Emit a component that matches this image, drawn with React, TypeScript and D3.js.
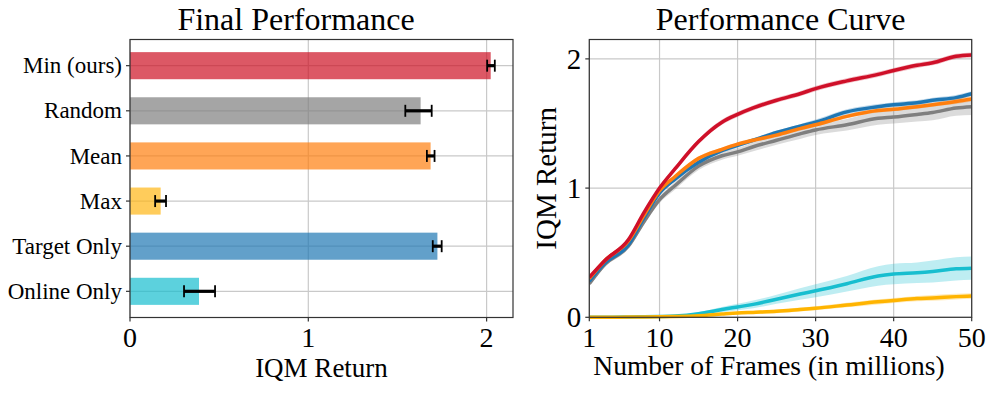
import React from "react";
import * as d3 from "d3";

// ---------- Data ----------
const methods = ["Min (ours)", "Random", "Mean", "Max", "Target Only", "Online Only"];
const finalValues = [2.023, 1.63, 1.686, 0.172, 1.724, 0.387];
const errLow = [2.003, 1.544, 1.665, 0.141, 1.698, 0.303];
const errHigh = [2.046, 1.692, 1.708, 0.202, 1.748, 0.477];
const barColors = ["#cd1124", "#7f7f7f", "#ff7f0e", "#ffb616", "#1f77b4", "#17becf"];
const barTicks = [0, 1, 2];

const frames = [1, 3, 6, 8, 10, 12, 15, 18, 20, 22, 25, 28, 30, 34, 38, 40, 43, 45, 48, 50];
const curveRandom = [0.26, 0.41, 0.55, 0.74, 0.91, 1.02, 1.17, 1.25, 1.28, 1.32, 1.37, 1.42, 1.45, 1.49, 1.54, 1.55, 1.57, 1.585, 1.62, 1.63];
const bandRandom = [0.02, 0.02, 0.02, 0.025, 0.025, 0.03, 0.03, 0.03, 0.03, 0.035, 0.035, 0.04, 0.04, 0.045, 0.05, 0.05, 0.055, 0.06, 0.06, 0.065];
const curveOnline = [0, 0, 0.002, 0.004, 0.006, 0.01, 0.028, 0.06, 0.08, 0.1, 0.14, 0.18, 0.205, 0.26, 0.32, 0.335, 0.345, 0.355, 0.375, 0.38];
const bandOnline = [0.002, 0.002, 0.003, 0.004, 0.005, 0.008, 0.012, 0.02, 0.025, 0.03, 0.035, 0.045, 0.05, 0.06, 0.075, 0.08, 0.08, 0.085, 0.09, 0.09];
const curveTarget = [0.28, 0.42, 0.56, 0.77, 0.96, 1.07, 1.2, 1.29, 1.33, 1.37, 1.43, 1.48, 1.51, 1.59, 1.63, 1.645, 1.66, 1.68, 1.7, 1.73];
const bandTarget = [0.015, 0.015, 0.015, 0.015, 0.015, 0.015, 0.015, 0.015, 0.015, 0.015, 0.015, 0.015, 0.02, 0.02, 0.02, 0.02, 0.02, 0.02, 0.02, 0.02];
const curveMean = [0.3, 0.44, 0.59, 0.79, 0.98, 1.09, 1.23, 1.3, 1.34, 1.37, 1.41, 1.46, 1.49, 1.555, 1.6, 1.61, 1.63, 1.645, 1.67, 1.69];
const bandMean = [0.015, 0.015, 0.015, 0.015, 0.015, 0.015, 0.015, 0.015, 0.015, 0.015, 0.015, 0.015, 0.015, 0.015, 0.015, 0.015, 0.015, 0.015, 0.02, 0.02];
const curveMax = [0, 0, 0.002, 0.003, 0.004, 0.006, 0.012, 0.025, 0.033, 0.038, 0.046, 0.06, 0.07, 0.095, 0.12, 0.13, 0.145, 0.15, 0.16, 0.165];
const bandMax = [0.002, 0.002, 0.002, 0.003, 0.003, 0.004, 0.006, 0.008, 0.01, 0.012, 0.014, 0.015, 0.016, 0.018, 0.02, 0.02, 0.02, 0.022, 0.022, 0.022];
const curveMin = [0.31, 0.44, 0.6, 0.81, 1.0, 1.15, 1.36, 1.51, 1.57, 1.62, 1.68, 1.73, 1.77, 1.83, 1.88, 1.91, 1.95, 1.97, 2.02, 2.03];
const bandMin = [0.015, 0.015, 0.015, 0.015, 0.015, 0.02, 0.02, 0.02, 0.02, 0.02, 0.02, 0.02, 0.02, 0.02, 0.02, 0.02, 0.02, 0.02, 0.02, 0.02];

const curveSeries = [
  { name: "Random", values: curveRandom, band: bandRandom, color: "#7f7f7f" },
  { name: "Online Only", values: curveOnline, band: bandOnline, color: "#17becf" },
  { name: "Target Only", values: curveTarget, band: bandTarget, color: "#1f77b4" },
  { name: "Mean", values: curveMean, band: bandMean, color: "#ff7f0e" },
  { name: "Max", values: curveMax, band: bandMax, color: "#ffb400" },
  { name: "Min (ours)", values: curveMin, band: bandMin, color: "#cf1029" },
];
const frameTicks = [1, 10, 20, 30, 40, 50];
const returnTicks = [0, 1, 2];

const FONT = "'Liberation Serif', 'Times New Roman', serif";
const GRID = "#c9c9c9";
const SPINE = "#333333";

export default function App() {
  // Left panel geometry
  const L = { left: 130, right: 513, top: 39.5, bottom: 317.5 };
  const xb = d3.scaleLinear().domain([0, 2.148]).range([L.left, L.right]);
  const yb = d3.scaleLinear().domain([-0.58, methods.length - 1 + 0.58]).range([L.top, L.bottom]);
  const barH = yb(0.6) - yb(0);

  // Right panel geometry
  const R = { left: 589.3, right: 971.7, top: 39.5, bottom: 317.3 };
  const xc = d3.scaleLinear().domain([1, 50]).range([R.left, R.right]);
  const yc = d3.scaleLinear().domain([0, 2.15]).range([R.bottom, R.top]);

  const line = d3
    .line<number>()
    .x((_, i) => xc(frames[i]))
    .y((v) => yc(v))
    .curve(d3.curveMonotoneX);

  const area = (vals: number[], band: number[]) =>
    d3
      .area<number>()
      .x((_, i) => xc(frames[i]))
      .y0((v, i) => yc(Math.max(0, v - band[i])))
      .y1((v, i) => yc(v + band[i]))
      .curve(d3.curveMonotoneX)(vals) || "";

  return (
    <svg
      width={996}
      height={393}
      style={{ position: "absolute", left: 0, top: 0, background: "#fff" }}
      fontFamily={FONT}
    >
      {/* ---------- Left panel ---------- */}
      <text x={296} y={30} fontSize={32} textAnchor="middle" fill="#000">
        Final Performance
      </text>
      {/* grid */}
      {barTicks.map((t) => (
        <line key={"gx" + t} x1={xb(t)} x2={xb(t)} y1={L.top} y2={L.bottom} stroke={GRID} strokeWidth={1.2} />
      ))}
      {methods.map((m, i) => (
        <line key={"gy" + m} x1={L.left} x2={L.right} y1={yb(i)} y2={yb(i)} stroke={GRID} strokeWidth={1.2} />
      ))}
      {/* bars */}
      {methods.map((m, i) => (
        <rect
          key={"bar" + m}
          x={xb(0)}
          y={yb(i) - barH / 2}
          width={xb(finalValues[i]) - xb(0)}
          height={barH}
          fill={barColors[i]}
          fillOpacity={0.7}
        />
      ))}
      {/* error bars */}
      {methods.map((m, i) => (
        <g key={"err" + m} stroke="#000">
          <line x1={xb(errLow[i])} x2={xb(errHigh[i])} y1={yb(i)} y2={yb(i)} strokeWidth={3.2} />
          <line x1={xb(errLow[i])} x2={xb(errLow[i])} y1={yb(i) - 6} y2={yb(i) + 6} strokeWidth={1.8} />
          <line x1={xb(errHigh[i])} x2={xb(errHigh[i])} y1={yb(i) - 6} y2={yb(i) + 6} strokeWidth={1.8} />
        </g>
      ))}
      {/* spines */}
      <rect x={L.left} y={L.top} width={L.right - L.left} height={L.bottom - L.top} fill="none" stroke={SPINE} strokeWidth={1.2} />
      {/* y ticks */}
      {methods.map((m, i) => (
        <g key={"yt" + m}>
          <line x1={L.left - 4} x2={L.left} y1={yb(i)} y2={yb(i)} stroke={SPINE} strokeWidth={1.2} />
          <text x={L.left - 8} y={yb(i)} dy="0.33em" fontSize={23} textAnchor="end" fill="#000">
            {m}
          </text>
        </g>
      ))}
      {/* x ticks */}
      {barTicks.map((t) => (
        <g key={"xt" + t}>
          <line x1={xb(t)} x2={xb(t)} y1={L.bottom} y2={L.bottom + 4} stroke={SPINE} strokeWidth={1.2} />
          <text x={xb(t)} y={347} fontSize={28} textAnchor="middle" fill="#000">
            {t}
          </text>
        </g>
      ))}
      <text x={(L.left + L.right) / 2} y={377} fontSize={27} textAnchor="middle" fill="#000">
        IQM Return
      </text>

      {/* ---------- Right panel ---------- */}
      <text x={(R.left + R.right) / 2} y={30} fontSize={32} textAnchor="middle" fill="#000">
        Performance Curve
      </text>
      {frameTicks.map((t) => (
        <line key={"cgx" + t} x1={xc(t)} x2={xc(t)} y1={R.top} y2={R.bottom} stroke={GRID} strokeWidth={1.2} />
      ))}
      {returnTicks.map((t) => (
        <line key={"cgy" + t} x1={R.left} x2={R.right} y1={yc(t)} y2={yc(t)} stroke={GRID} strokeWidth={1.2} />
      ))}
      <defs>
        <clipPath id="plotClip">
          <rect x={R.left} y={R.top} width={R.right - R.left} height={R.bottom - R.top + 2} />
        </clipPath>
      </defs>
      <g clipPath="url(#plotClip)">
        {curveSeries.map((s) => (
          <g key={"cs" + s.name}>
            <path d={area(s.values, s.band)} fill={s.color} fillOpacity={0.28} stroke="none" />
            <path d={line(s.values) || ""} fill="none" stroke={s.color} strokeWidth={3.5} strokeLinejoin="round" />
          </g>
        ))}
      </g>
      <rect x={R.left} y={R.top} width={R.right - R.left} height={R.bottom - R.top} fill="none" stroke={SPINE} strokeWidth={1.2} />
      {frameTicks.map((t) => (
        <g key={"cxt" + t}>
          <line x1={xc(t)} x2={xc(t)} y1={R.bottom} y2={R.bottom + 4} stroke={SPINE} strokeWidth={1.2} />
          <text x={xc(t)} y={347} fontSize={28} textAnchor="middle" fill="#000">
            {t}
          </text>
        </g>
      ))}
      {returnTicks.map((t) => (
        <g key={"cyt" + t}>
          <line x1={R.left - 4} x2={R.left} y1={yc(t)} y2={yc(t)} stroke={SPINE} strokeWidth={1.2} />
          <text x={R.left - 8} y={yc(t)} dy="0.35em" fontSize={29} textAnchor="end" fill="#000">
            {t}
          </text>
        </g>
      ))}
      <text x={769} y={375} fontSize={27.5} textAnchor="middle" fill="#000">
        Number of Frames (in millions)
      </text>
      <text
        transform={`translate(556, ${(R.top + R.bottom) / 2}) rotate(-90)`}
        fontSize={29}
        textAnchor="middle"
        fill="#000"
      >
        IQM Return
      </text>
    </svg>
  );
}
